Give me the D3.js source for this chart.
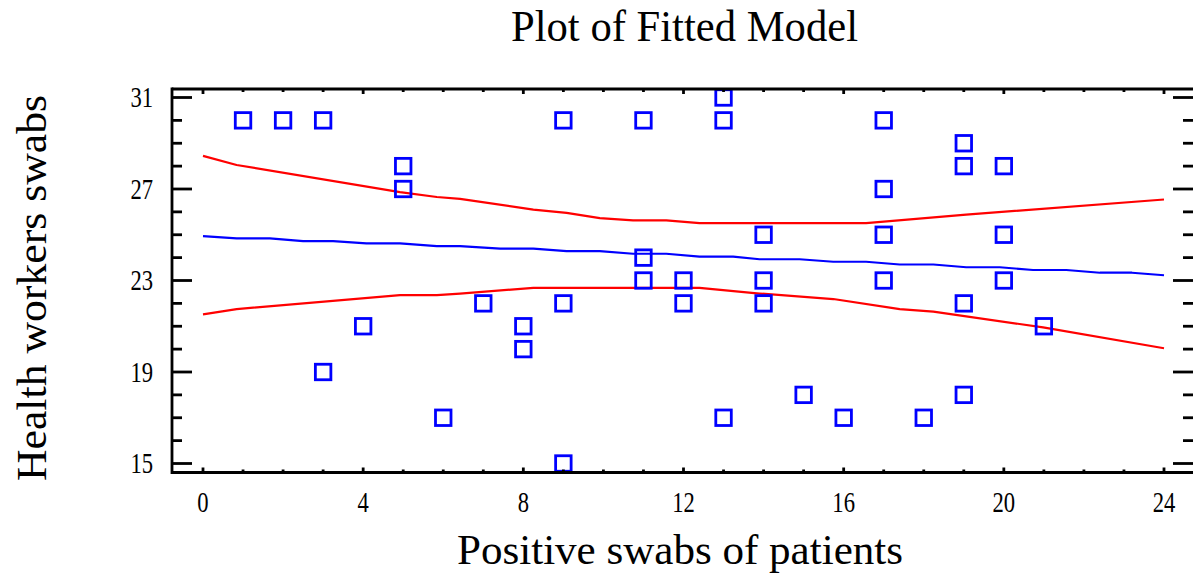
<!DOCTYPE html>
<html>
<head>
<meta charset="utf-8">
<script src="https://cdn.jsdelivr.net/npm/d3@7"></script>
<style>
  html, body { margin: 0; padding: 0; background: #fff; }
  svg { display: block; }
  text { font-family: "Liberation Serif", "Times New Roman", serif; fill: #000; }
</style>
</head>
<body>
<svg id="chart" width="1193" height="577"></svg>
<script>
// ---- data ----
const pointX = [1, 2, 3, 3, 4, 5, 5, 6, 7, 8, 8, 9, 9, 9, 11, 11, 11, 12, 12, 13, 13, 13, 14, 14, 14, 15, 16, 17, 17, 17, 17, 18, 19, 19, 19, 19, 20, 20, 20, 21];
const pointY = [30, 30, 30, 19, 21, 28, 27, 17, 22, 21, 20, 30, 22, 15, 30, 24, 23, 23, 22, 31, 30, 17, 25, 23, 22, 18, 17, 30, 27, 25, 23, 17, 29, 28, 22, 18, 28, 25, 23, 21];

const fitX = [0, 0.84, 1.67, 2.5, 3.25, 4.08, 4.92, 5.84, 6.42, 7.42, 8.25, 9.08, 9.91, 10.74, 11.57, 12.4, 13.24, 13.9, 14.9, 15.74, 16.56, 17.4, 18.24, 19.06, 19.9, 20.73, 21.56, 22.4, 23.2, 24];
const fitY = [24.94, 24.84, 24.84, 24.72, 24.72, 24.62, 24.62, 24.5, 24.5, 24.39, 24.39, 24.28, 24.28, 24.17, 24.17, 24.04, 24.04, 23.93, 23.93, 23.82, 23.82, 23.7, 23.7, 23.58, 23.58, 23.46, 23.46, 23.34, 23.34, 23.23];

const upperX = [0, 0.84, 4.92, 5.84, 6.42, 8.25, 9.08, 9.91, 10.74, 11.57, 12.4, 16.56, 19.06, 24];
const upperY = [28.45, 28.05, 26.86, 26.65, 26.57, 26.1, 25.96, 25.73, 25.63, 25.63, 25.51, 25.51, 25.88, 26.54];

const lowerX = [0, 0.84, 4.92, 5.84, 6.42, 8.25, 12.4, 13.9, 15.74, 17.4, 18.24, 20.98, 24];
const lowerY = [21.52, 21.75, 22.36, 22.36, 22.43, 22.68, 22.68, 22.43, 22.19, 21.75, 21.64, 20.95, 20.04];

const xTickLabels = [0, 4, 8, 12, 16, 20, 24];
const yTickLabels = [15, 19, 23, 27, 31];
const xMinorTicks = d3.range(0, 25, 1);
const yMinorTicks = d3.range(15, 32, 1);

const titleText = "Plot of Fitted Model";
const xTitle = "Positive swabs of patients";
const yTitle = "Health workers swabs";

// ---- layout ----
const svg = d3.select("#chart");
const x = d3.scaleLinear().domain([0, 24]).range([203, 1164]);
const y = d3.scaleLinear().domain([15, 31]).range([463.5, 97.5]);
const frame = { left: 172, right: 1196, top: 89, bottom: 472.5 };

// lines
const lineGen = d3.line().x(d => x(d[0])).y(d => y(d[1]));
function drawLine(xs, ys, color) {
  svg.append("path")
    .datum(xs.map((v, i) => [v, ys[i]]))
    .attr("d", lineGen)
    .attr("fill", "none")
    .attr("stroke", color)
    .attr("stroke-width", 2.2)
    .attr("stroke-linejoin", "round");
}
drawLine(upperX, upperY, "#ff0000");
drawLine(lowerX, lowerY, "#ff0000");
drawLine(fitX, fitY, "#0000ff");

// points
const sq = 15.5;
svg.append("g").selectAll("rect")
  .data(pointX.map((v, i) => [v, pointY[i]]))
  .join("rect")
  .attr("x", d => x(d[0]) - sq / 2)
  .attr("y", d => y(d[1]) - sq / 2)
  .attr("width", sq)
  .attr("height", sq)
  .attr("fill", "none")
  .attr("stroke", "#0000ff")
  .attr("stroke-width", 2.8);

// frame
const axisG = svg.append("g").attr("stroke", "#000").attr("stroke-width", 2.8).attr("fill", "none");
axisG.append("line").attr("x1", frame.left).attr("x2", frame.left).attr("y1", frame.top - 1.4).attr("y2", frame.bottom + 1.4);
axisG.append("line").attr("x1", frame.right).attr("x2", frame.right).attr("y1", frame.top - 1.4).attr("y2", frame.bottom + 1.4);
axisG.append("line").attr("x1", frame.left).attr("x2", frame.right).attr("y1", frame.top).attr("y2", frame.top);
axisG.append("line").attr("x1", frame.left).attr("x2", frame.right).attr("y1", frame.bottom).attr("y2", frame.bottom);

// y ticks (left & right, pointing inward)
const tickG = svg.append("g").attr("stroke", "#000").attr("stroke-width", 2.8);
yMinorTicks.forEach(v => {
  const major = yTickLabels.includes(v);
  const len = major ? 20 : 10;
  tickG.append("line").attr("x1", frame.left).attr("x2", frame.left + len).attr("y1", y(v)).attr("y2", y(v));
  tickG.append("line").attr("x1", frame.right).attr("x2", frame.right - len - 3).attr("y1", y(v)).attr("y2", y(v));
});
// x ticks (top & bottom, pointing inward)
xMinorTicks.forEach(v => {
  const major = xTickLabels.includes(v);
  const len = major ? 5 : 3;
  tickG.append("line").attr("x1", x(v)).attr("x2", x(v)).attr("y1", frame.bottom).attr("y2", frame.bottom - len);
  tickG.append("line").attr("x1", x(v)).attr("x2", x(v)).attr("y1", frame.top).attr("y2", frame.top + len);
});

// tick labels
svg.append("g").selectAll("text")
  .data(xTickLabels)
  .join("text")
  .attr("transform", d => `translate(${x(d)},512) scale(0.78,1)`)
  .attr("text-anchor", "middle")
  .attr("font-size", 29)
  .text(d => d);

svg.append("g").selectAll("text")
  .data(yTickLabels)
  .join("text")
  .attr("transform", d => `translate(153,${y(d) + 9.5}) scale(0.78,1)`)
  .attr("text-anchor", "end")
  .attr("font-size", 29)
  .text(d => d);

// titles
svg.append("text")
  .attr("x", 511).attr("y", 41)
  .attr("font-size", 44)
  .attr("textLength", 347).attr("lengthAdjust", "spacingAndGlyphs")
  .text(titleText);

svg.append("text")
  .attr("x", 457).attr("y", 564)
  .attr("font-size", 42)
  .attr("textLength", 446).attr("lengthAdjust", "spacingAndGlyphs")
  .text(xTitle);

svg.append("text")
  .attr("transform", "translate(46,481) rotate(-90)")
  .attr("font-size", 42)
  .attr("textLength", 386).attr("lengthAdjust", "spacingAndGlyphs")
  .text(yTitle);
</script>
</body>
</html>
